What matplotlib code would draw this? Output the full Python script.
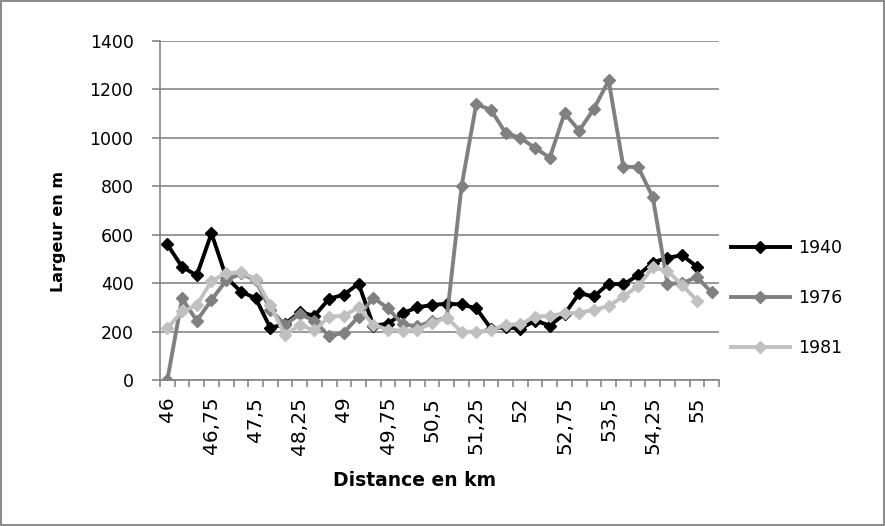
import matplotlib.pyplot as plt
import numpy as np

# distance categories 46 .. 55,25 step 0,25
distances = [46 + 0.25 * k for k in range(38)]

y1940 = [560, 467, 432, 606, 424, 365, 338, 215, 232, 280, 265, 336, 352, 398, 225, 232,
         276, 300, 310, 315, 312, 296, 212, 218, 212, 245, 225, 272, 358, 345, 398, 395,
         432, 485, 505, 515, 468]
y1976 = [0, 337, 245, 330, 412, 440, 412, 290, 228, 272, 245, 180, 196, 262, 340, 296,
         230, 222, 242, 258, 800, 1140, 1115, 1020, 1000, 958, 918, 1102, 1030, 1120, 1237,
         880, 880, 755, 398, 400, 425, 362]
y1981 = [214, 283, 308, 410, 440, 445, 418, 308, 185, 228, 205, 262, 265, 300, 228, 208,
         203, 208, 235, 258, 198, 200, 206, 228, 230, 262, 265, 275, 278, 290, 305, 345,
         388, 465, 450, 392, 328]

labels = [("%g" % d).replace(".", ",") for d in distances]

fig = plt.figure(figsize=(8.85, 5.26), dpi=100)
fig.patch.set_edgecolor("#8c8c8c")
fig.patch.set_linewidth(1.5)
ax = fig.add_axes([0.1808, 0.2776, 0.6316, 0.6444])

grid_col = "#868686"
ax.plot(np.arange(len(y1940)), y1940, color="black", lw=2.8, marker="D", ms=6, label="1940")
ax.plot(np.arange(len(y1976)), y1976, color="#808080", lw=2.8, marker="D", ms=6, label="1976")
ax.plot(np.arange(len(y1981)), y1981, color="#c0c0c0", lw=2.8, marker="D", ms=6, label="1981")

ax.set_ylim(0, 1400)
ax.set_yticks(np.arange(0, 1401, 200))
ax.yaxis.grid(True, color=grid_col, lw=1.2)
ax.set_axisbelow(True)
ax.set_xlim(-0.5, len(distances) - 0.5)

ax.set_xticks(np.arange(len(distances) + 1) - 0.5, minor=True)
ax.set_xticks(np.arange(0, len(distances), 3))
ax.set_xticklabels([labels[k] for k in range(0, len(distances), 3)], rotation=90,
                   fontsize=14.5, va="top", ha="center")
ax.tick_params(axis="x", which="major", length=0, pad=12)
ax.tick_params(axis="x", which="minor", length=5, color=grid_col, width=1.2)
ax.tick_params(axis="y", length=6, color=grid_col, width=1.2, labelsize=12.5, pad=13)

for s in ["top", "right"]:
    ax.spines[s].set_visible(False)
for s in ["left", "bottom"]:
    ax.spines[s].set_color(grid_col)
    ax.spines[s].set_linewidth(1.2)

ax.set_ylabel("Largeur en m", fontsize=11.5, fontweight="bold")
ax.yaxis.set_label_coords(-0.168, 0.437)
ax.set_xlabel("Distance en km", fontsize=13.5, fontweight="bold")
ax.xaxis.set_label_coords(0.456, -0.268)

fig.legend(loc="center left", bbox_to_anchor=(0.808, 0.433), frameon=False, fontsize=12.5,
           handlelength=3.4, handletextpad=0.5, labelspacing=1.85)

fig.savefig("out.png", dpi=100)
